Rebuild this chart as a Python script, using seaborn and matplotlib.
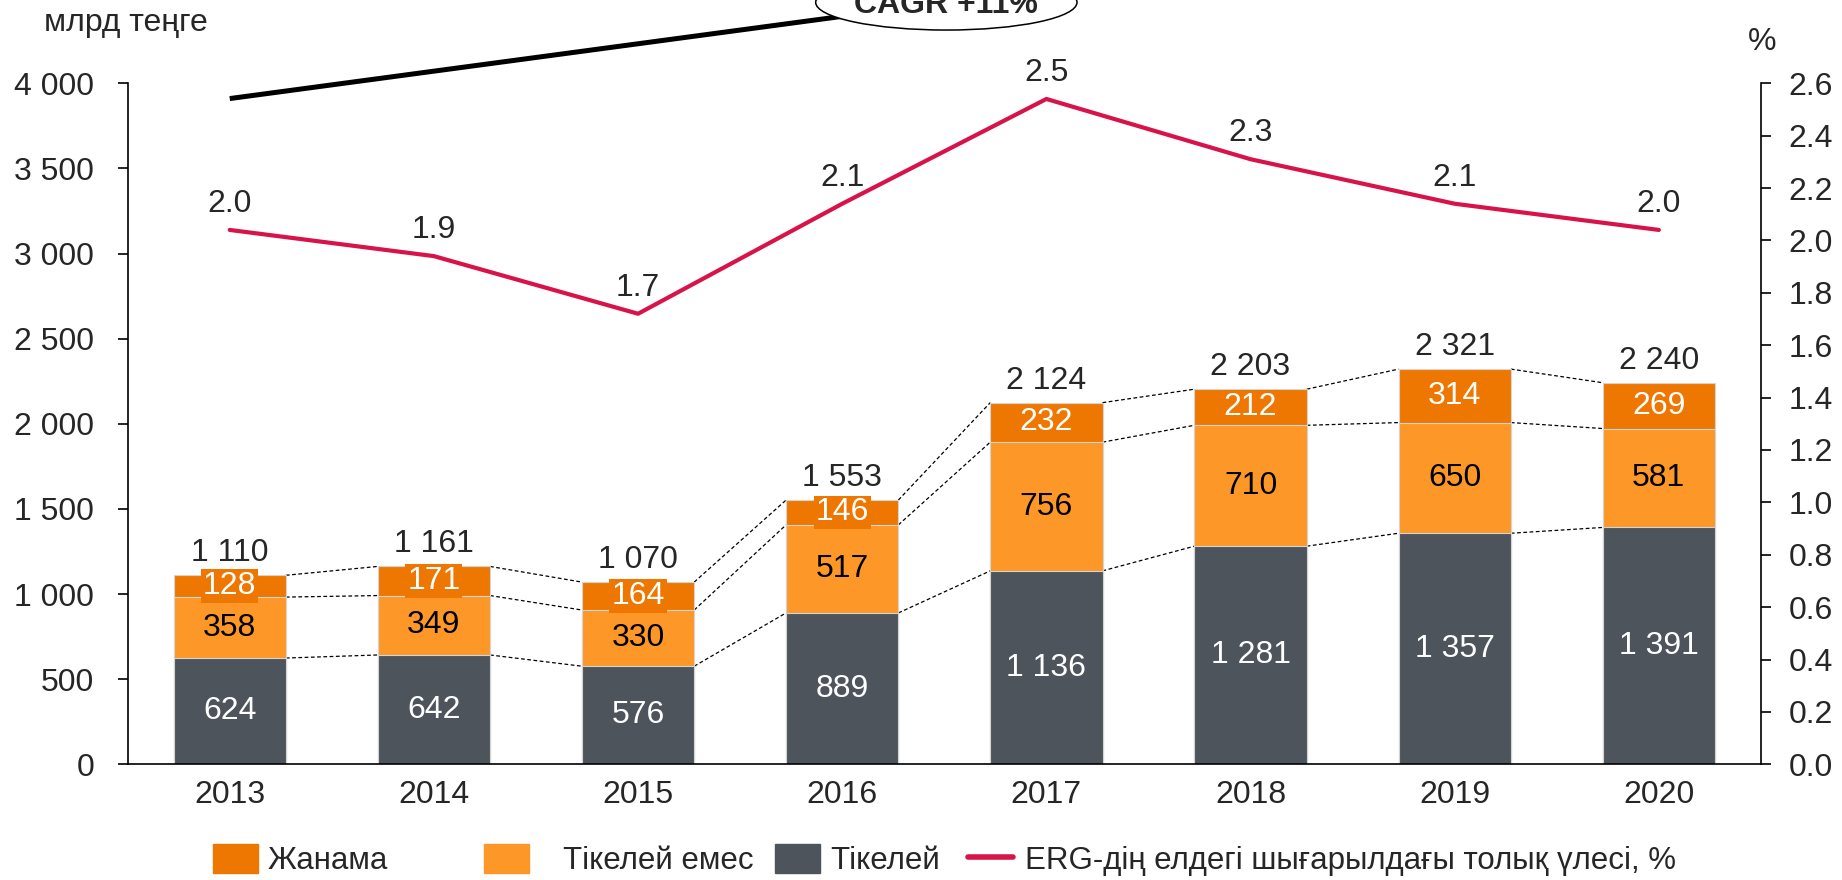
import numpy as np
import pandas as pd
import seaborn as sns
import matplotlib.pyplot as plt
from matplotlib.patches import Patch, Ellipse
from matplotlib.lines import Line2D
from matplotlib.ticker import FuncFormatter, MultipleLocator

# Data
years = ['2013', '2014', '2015', '2016', '2017', '2018', '2019', '2020']
direct = [624, 642, 576, 889, 1136, 1281, 1357, 1391]       # Тікелей
indirect = [358, 349, 330, 517, 756, 710, 650, 581]         # Тікелей емес
induced = [128, 171, 164, 146, 232, 212, 314, 269]          # Жанама
totals = [1110, 1161, 1070, 1553, 2124, 2203, 2321, 2240]
share = [2.04, 1.94, 1.72, 2.14, 2.54, 2.31, 2.14, 2.04]    # %, right axis
series_names = ['Жанама', 'Тікелей емес', 'Тікелей',
                'ERG-дің елдегі шығарылдағы толық үлесі, %']

# CAGR callout (start of the arrow line and centre of the ellipse, data coords)
cagr_start = (0, 3910)
cagr_centre = (3.51, 4475)

C_JAN = '#EE7701'
C_EMES = '#FD9828'
C_TIK = '#4D545B'
C_RED = '#D8134A'
FS = 23

sns.set_style('white')
plt.rcParams['font.family'] = ['Liberation Sans', 'DejaVu Sans']


def fmt(v):
    return f"{int(round(v)):,}".replace(",", " ")


fig = plt.figure(figsize=(18.42, 8.8), dpi=100)
ax = fig.add_axes([0.0693, 0.1315, 0.8867, 0.7739])

lower = np.array(direct)
middle = lower + np.array(indirect)
upper = middle + np.array(induced)
df = pd.DataFrame({'year': years, 'upper': upper, 'middle': middle, 'lower': lower})

bar_w = 0.55
for col, color in [('upper', C_JAN), ('middle', C_EMES), ('lower', C_TIK)]:
    sns.barplot(data=df, x='year', y=col, color=color, saturation=1, width=bar_w,
                edgecolor='#d4d4d4', linewidth=0.8, ax=ax, zorder=2)

# dashed connectors between segment tops
half = bar_w / 2
for level in (lower, middle, upper):
    for i in range(len(years) - 1):
        ax.plot([i + half, i + 1 - half], [level[i], level[i + 1]], color='black',
                lw=0.9, ls=(0, (3, 2)), zorder=1)

# segment and total labels
for i in range(len(years)):
    ax.text(i, lower[i] / 2, fmt(direct[i]), ha='center', va='center',
            color='white', fontsize=FS, zorder=4)
    ax.text(i, lower[i] + indirect[i] / 2, fmt(indirect[i]), ha='center', va='center',
            color='black', fontsize=FS, zorder=4)
    ax.text(i, middle[i] + induced[i] / 2, fmt(induced[i]), ha='center', va='center',
            color='white', fontsize=FS, zorder=4,
            bbox=dict(boxstyle='square,pad=0.06', fc=C_JAN, ec='none'))
    ax.annotate(fmt(totals[i]), (i, upper[i]), xytext=(0, 5), textcoords='offset points',
                ha='center', va='bottom', fontsize=FS, zorder=4)

# CAGR line and ellipse
ax.plot([cagr_start[0], cagr_centre[0]], [cagr_start[1], cagr_centre[1]], color='black',
        lw=3.6, solid_capstyle='butt', clip_on=False, zorder=5)
ax.add_patch(Ellipse(cagr_centre, width=1.28, height=325, fc='white', ec='black',
                     lw=1.1, clip_on=False, zorder=6))
ax.text(cagr_centre[0], cagr_centre[1] - 65, 'CAGR +11%', ha='center', va='baseline',
        fontsize=FS, fontweight='bold', clip_on=False, zorder=7)

# share of ERG on the right axis
ax2 = ax.twinx()
sns.lineplot(x=np.arange(len(years)), y=share, color=C_RED, linewidth=3, ax=ax2)
for i, v in enumerate(share):
    ax2.annotate(f"{v:.1f}", (i, v), xytext=(0, 8), textcoords='offset points',
                 ha='center', va='bottom', fontsize=FS)

ax.set_xlim(-0.5, 7.5)
ax.set_ylim(0, 4000)
ax2.set_ylim(0, 2.6)
ax.set_xlabel('')
ax.set_ylabel('')
ax2.set_ylabel('')

ax.yaxis.set_major_locator(MultipleLocator(500))
ax.yaxis.set_major_formatter(FuncFormatter(lambda v, p: fmt(v)))
ax2.yaxis.set_major_locator(MultipleLocator(0.2))
ax2.yaxis.set_major_formatter(FuncFormatter(lambda v, p: f"{v:.1f}"))

ax.tick_params(axis='y', left=True, length=7, width=1.2, pad=17, labelsize=FS, color='black')
ax.tick_params(axis='x', bottom=False, length=0, pad=11, labelsize=FS)
ax2.tick_params(axis='y', right=True, length=7, width=1.2, pad=13, labelsize=FS, color='black')

for s in ('top', 'right'):
    ax.spines[s].set_visible(False)
for s in ('top', 'left', 'bottom'):
    ax2.spines[s].set_visible(False)
for a, s in ((ax, 'left'), (ax, 'bottom'), (ax2, 'right')):
    a.spines[s].set_color('black')
    a.spines[s].set_linewidth(1.2)

fig.text(44 / 1842, 1 - 31 / 880, 'млрд теңге', ha='left', va='baseline', fontsize=FS)
fig.text(1762 / 1842, 1 - 50 / 880, '%', ha='center', va='baseline', fontsize=FS)

# legend items placed one by one to keep the original uneven spacing
handles = [Patch(color=C_JAN), Patch(color=C_EMES), Patch(color=C_TIK),
           Line2D([], [], color=C_RED, lw=4)]
legend_x = [213, 484, 775, 968]
legend_pad = [0.32, 1.1, 0.32, 0.38]
for h, name, lx, pad in zip(handles, series_names, legend_x, legend_pad):
    fig.legend(handles=[h], labels=[name], loc='center left',
               bbox_to_anchor=(lx / 1842, 1 - 860 / 880), frameon=False, fontsize=22.5,
               handlelength=1.44, handleheight=1.08, handletextpad=pad,
               borderpad=0, borderaxespad=0)

fig.savefig('out.png', dpi=100)
